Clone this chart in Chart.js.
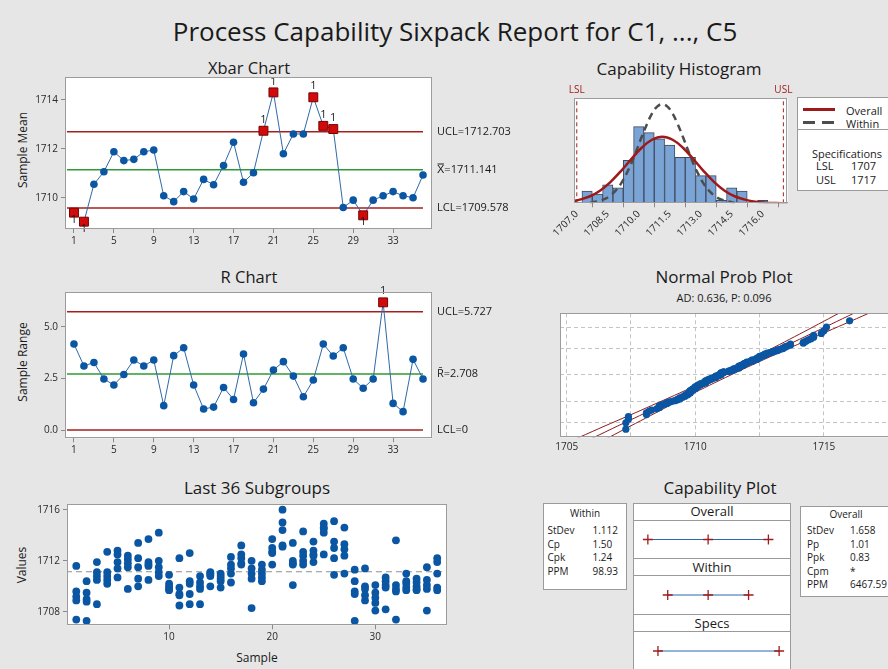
<!DOCTYPE html>
<html>
<head>
<meta charset="utf-8">
<script src="https://cdn.jsdelivr.net/npm/chart.js@4.4.0/dist/chart.umd.min.js"></script>
<style>
  html, body { margin: 0; padding: 0; }
  body { width: 888px; height: 669px; background: #e6e6e6; position: relative; overflow: hidden;
         font-family: 'Open Sans', sans-serif; color: #1a1a1a; }
  canvas { position: absolute; }
  .box { position: absolute; background: #fff; border: 1px solid #9a9a9a; box-sizing: border-box; }
  .rule { position: absolute; height: 1px; background: #9a9a9a; }
</style>
</head>
<body>
<script>
// ---- data ----
const samples = [1, 2, 3, 4, 5, 6, 7, 8, 9, 10, 11, 12, 13, 14, 15, 16, 17, 18,
                 19, 20, 21, 22, 23, 24, 25, 26, 27, 28, 29, 30, 31, 32, 33, 34, 35, 36];

const xbarMeans = [1709.39, 1709.02, 1710.55, 1711.06, 1711.88, 1711.52, 1711.57, 1711.88, 1711.95,
                   1710.08, 1709.84, 1710.25, 1709.95, 1710.75, 1710.53, 1711.32, 1712.27, 1710.63,
                   1711.02, 1712.74, 1714.31, 1711.80, 1712.61, 1712.61, 1714.11, 1712.94, 1712.81,
                   1709.60, 1709.90, 1709.28, 1709.90, 1710.08, 1710.25, 1710.08, 1710.00, 1710.93];

const rangeValues = [4.16, 3.10, 3.27, 2.47, 2.18, 2.69, 3.39, 3.10, 3.39, 1.18, 3.60, 3.98,
                     2.18, 1.02, 1.11, 2.06, 1.48, 3.68, 1.32, 1.98, 2.90, 3.31, 2.61, 1.61,
                     2.42, 4.16, 3.58, 3.98, 2.47, 2.02, 2.47, 6.18, 1.29, 0.89, 3.42, 2.47];

// individual observations, one array per column C1..C5 (36 subgroups each)
const c1 = [1711.6, 1710.4, 1711.9, 1712.7, 1712.8, 1712.4, 1713.4, 1713.7, 1714.2, 1710.9, 1712.2, 1712.6,
            1710.8, 1711.1, 1711.0, 1712.3, 1713.2, 1712.0, 1711.7, 1713.7, 1716.0, 1713.4, 1714.3, 1713.5,
            1714.9, 1715.1, 1714.6, 1711.3, 1711.4, 1710.1, 1710.7, 1713.6, 1711.0, 1710.6, 1711.5, 1712.2];
const c2 = [1709.6, 1709.5, 1711.1, 1711.1, 1712.5, 1712.1, 1712.2, 1711.9, 1712.0, 1710.2, 1709.9, 1710.4,
            1710.3, 1711.0, 1710.8, 1711.7, 1712.5, 1711.4, 1711.3, 1713.0, 1715.0, 1712.0, 1712.7, 1712.8,
            1714.6, 1713.5, 1713.3, 1710.4, 1710.0, 1709.5, 1710.4, 1710.1, 1710.4, 1710.3, 1710.5, 1711.9];
const c3 = [1709.2, 1709.0, 1710.8, 1710.8, 1711.9, 1711.8, 1711.5, 1711.7, 1711.5, 1710.0, 1709.4, 1710.2,
            1710.0, 1710.9, 1710.6, 1711.4, 1712.2, 1711.0, 1711.0, 1712.7, 1714.4, 1711.8, 1712.4, 1712.5,
            1714.5, 1713.0, 1712.9, 1709.6, 1709.8, 1709.1, 1710.1, 1709.8, 1710.2, 1710.0, 1710.1, 1711.0];
const c4 = [1708.9, 1708.8, 1710.5, 1710.5, 1711.4, 1711.5, 1710.6, 1711.6, 1711.1, 1709.8, 1709.3, 1709.4,
            1709.8, 1710.8, 1710.4, 1711.0, 1711.8, 1710.6, 1710.7, 1712.6, 1713.2, 1711.7, 1712.0, 1712.4,
            1714.2, 1712.2, 1712.4, 1709.4, 1709.3, 1708.7, 1709.9, 1709.6, 1709.9, 1709.8, 1709.8, 1709.9];
const c5 = [1707.4, 1707.3, 1708.6, 1710.2, 1710.7, 1709.8, 1710.0, 1710.5, 1710.8, 1709.7, 1708.5, 1708.6,
            1708.6, 1710.0, 1709.9, 1710.3, 1711.7, 1708.3, 1710.4, 1711.7, 1713.1, 1710.1, 1711.7, 1711.9,
            1712.5, 1710.9, 1711.0, 1707.3, 1708.9, 1708.1, 1708.2, 1707.4, 1709.7, 1709.7, 1708.1, 1709.7];

const xbarUCL = 1712.703, xbarCL = 1711.141, xbarLCL = 1709.578;
const rUCL = 5.727, rCL = 2.708, rLCL = 0;
const lsl = 1707, usl = 1717;

const controlXTicks = [1, 5, 9, 13, 17, 21, 25, 29, 33];
const xbarYTicks = [1710, 1712, 1714];
const rYTicks = [0, 2.5, 5];
const subgroupXTicks = [10, 20, 30];
const subgroupYTicks = [1708, 1712, 1716];

const histBins = [1707.5, 1708.0, 1708.5, 1709.0, 1709.5, 1710.0, 1710.5, 1711.0, 1711.5,
                  1712.0, 1712.5, 1713.0, 1713.5, 1714.0, 1714.5, 1715.0, 1715.5, 1716.0];
const histCounts = [4, 3, 6, 5, 14, 25, 23, 21, 19, 15, 15, 9, 9, 1, 5, 4, 0, 1];
const histTicks = [1707.0, 1708.5, 1710.0, 1711.5, 1713.0, 1714.5, 1716.0];

const overallCurveX = [1706.88, 1707.14, 1707.64, 1708.14, 1708.64, 1709.14, 1709.64, 1710.14, 1710.64, 1711.14,
                       1711.64, 1712.14, 1712.64, 1713.14, 1713.64, 1714.14, 1714.64, 1715.14, 1715.64, 1716.14,
                       1716.64, 1717.21];
const overallCurveY = [0.8, 1.2, 2.3, 4.2, 7.0, 10.5, 14.4, 18.1, 20.7, 21.7,
                       20.7, 18.1, 14.4, 10.5, 7.0, 4.2, 2.3, 1.2, 0.5, 0.2,
                       0.1, 0.0];
const withinCurveX = [1707.64, 1707.89, 1708.14, 1708.39, 1708.64, 1708.89, 1709.14, 1709.39, 1709.64, 1709.89,
                      1710.14, 1710.39, 1710.64, 1710.89, 1711.14, 1711.39, 1711.64, 1711.89, 1712.14, 1712.39,
                      1712.64, 1712.89, 1713.14, 1713.39, 1713.64, 1713.89, 1714.14, 1714.39, 1714.64];
const withinCurveY = [0.2, 0.5, 0.9, 1.5, 2.6, 4.2, 6.4, 9.4, 13.0, 17.2,
                      21.6, 25.7, 29.2, 31.5, 32.3, 31.5, 29.2, 25.7, 21.6, 17.2,
                      13.0, 9.4, 6.4, 4.2, 2.6, 1.5, 0.9, 0.5, 0.2];

const probXTicks = [1705, 1707.5, 1710, 1712.5, 1715, 1717.5];
const probXLabels = [1705, 1710, 1715];
const probGridPct = [1, 10, 50, 90, 99];
const probBandZ  = [-3.3, -3.06, -2.5, -2, -1.5, -1, -0.5, 0, 0.5, 1, 1.5, 2, 2.5, 3.03, 3.3];
const probFitX   = [1705.67, 1706.07, 1706.99, 1707.83, 1708.65, 1709.48, 1710.31, 1711.14,
                    1711.97, 1712.80, 1713.63, 1714.46, 1715.29, 1716.16, 1716.61];
const probBandLo = [1705.06, 1705.49, 1706.49, 1707.41, 1708.30, 1709.19, 1710.06, 1710.90,
                    1711.72, 1712.51, 1713.28, 1714.04, 1714.79, 1715.58, 1716.00];
const probBandHi = [1706.28, 1706.65, 1707.49, 1708.25, 1709.00, 1709.77, 1710.56, 1711.38,
                    1712.22, 1713.09, 1713.98, 1714.88, 1715.79, 1716.74, 1717.22];

const capOverall = [1706.167, 1711.141, 1716.115];
const capWithin = [1707.805, 1711.141, 1714.477];
const capSpecs = [1707, 1717];

const withinStats = [["StDev", "1.112"], ["Cp", "1.50"], ["Cpk", "1.24"], ["PPM", "98.93"]];
const overallStats = [["StDev", "1.658"], ["Pp", "1.01"], ["Ppk", "0.83"], ["Cpm", "*"], ["PPM", "6467.59"]];

// ---- styling ----
const dotBlue = '#0b56a3';
const lineBlue = '#2f6aa6';
const flagRed = '#d10a0a';
const limitRed = '#a3201f';
const centerGreen = '#2f9a35';
const tickColor = '#2a2a2a';
const FONT = "'Open Sans', sans-serif";

Chart.defaults.font.family = FONT;
Chart.defaults.color = tickColor;

// normal quantile (Acklam) used for the probability plot's vertical scale
function normInv(p) {
    const a = [-3.969683028665376e+01, 2.209460984245205e+02, -2.759285104469687e+02, 1.383577518672690e+02, -3.066479806614716e+01, 2.506628277459239e+00];
    const b = [-5.447609879822406e+01, 1.615858368580409e+02, -1.556989798598866e+02, 6.680131188771972e+01, -1.328068155288572e+01];
    const c = [-7.784894002430293e-03, -3.223964580411365e-01, -2.400758277161838e+00, -2.549732539343734e+00, 4.374664141464968e+00, 2.938163982698783e+00];
    const d = [7.784695709041462e-03, 3.224671290700398e-01, 2.445134137142996e+00, 3.754408661907416e+00];
    const lo = 0.02425;
    if (p < lo) {
        const q = Math.sqrt(-2 * Math.log(p));
        return (((((c[0]*q+c[1])*q+c[2])*q+c[3])*q+c[4])*q+c[5]) / ((((d[0]*q+d[1])*q+d[2])*q+d[3])*q+1);
    }
    if (p > 1 - lo) {
        const q = Math.sqrt(-2 * Math.log(1 - p));
        return -(((((c[0]*q+c[1])*q+c[2])*q+c[3])*q+c[4])*q+c[5]) / ((((d[0]*q+d[1])*q+d[2])*q+d[3])*q+1);
    }
    const q = p - 0.5, r = q * q;
    return (((((a[0]*r+a[1])*r+a[2])*r+a[3])*r+a[4])*r+a[5])*q / (((((b[0]*r+b[1])*r+b[2])*r+b[3])*r+b[4])*r+1);
}

// ---- plugins ----
const framePlugin = {
    id: 'frame',
    beforeDraw(chart, args, opts) {
        if (opts.fill === false) return;
        const a = chart.chartArea, ctx = chart.ctx;
        ctx.save();
        ctx.fillStyle = '#fff';
        ctx.fillRect(a.left, a.top, a.width, a.height);
        ctx.restore();
    },
    afterDraw(chart, args, opts) {
        if (opts.stroke === false) return;
        const a = chart.chartArea, ctx = chart.ctx;
        ctx.save();
        ctx.strokeStyle = '#9c9c9c';
        ctx.lineWidth = 1;
        ctx.strokeRect(Math.round(a.left) + 0.5, Math.round(a.top) + 0.5, Math.round(a.width) - 1, Math.round(a.height) - 1);
        ctx.restore();
    }
};

const limitLabelPlugin = {
    id: 'limitLabels',
    afterDraw(chart, args, opts) {
        if (!opts.items) return;
        const ctx = chart.ctx, a = chart.chartArea, ys = chart.scales.y;
        ctx.save();
        ctx.font = "11px " + FONT;
        ctx.fillStyle = '#1a1a1a';
        ctx.textBaseline = 'middle';
        ctx.textAlign = 'left';
        opts.items.forEach(it => ctx.fillText(it.text, a.right + 5, ys.getPixelForValue(it.value)));
        ctx.restore();
    }
};

const ruleLabelPlugin = {
    id: 'ruleLabels',
    afterDatasetsDraw(chart, args, opts) {
        if (!opts.flags) return;
        const ctx = chart.ctx, meta = chart.getDatasetMeta(0);
        ctx.save();
        ctx.font = "11px " + FONT;
        ctx.fillStyle = '#1a1a1a';
        ctx.textAlign = 'center';
        ctx.textBaseline = 'middle';
        opts.flags.forEach((f, i) => {
            if (!f) return;
            const p = meta.data[i];
            ctx.fillText('1', p.x, f === 'up' ? p.y - 11 : p.y + 7);
        });
        ctx.restore();
    }
};

const specLabelPlugin = {
    id: 'specLabels',
    afterDraw(chart, args, opts) {
        if (!opts.items) return;
        const ctx = chart.ctx, a = chart.chartArea, xs = chart.scales.x;
        ctx.save();
        ctx.font = "10px " + FONT;
        ctx.fillStyle = limitRed;
        ctx.textAlign = 'center';
        ctx.textBaseline = 'bottom';
        opts.items.forEach(it => ctx.fillText(it.text, xs.getPixelForValue(it.value), a.top - 3));
        ctx.restore();
    }
};

Chart.register(framePlugin, limitLabelPlugin, ruleLabelPlugin, specLabelPlugin);

// ---- page helpers ----
function addCanvas(x, y, w, h) {
    const el = document.createElement('canvas');
    el.width = w; el.height = h;
    el.style.left = x + 'px'; el.style.top = y + 'px';
    el.style.width = w + 'px'; el.style.height = h + 'px';
    document.body.appendChild(el);
    return { el, x, y, w, h };
}

function txt(s, x, y, size, opt = {}) {
    const d = document.createElement('div');
    d.textContent = s;
    d.style.cssText = `position:absolute;white-space:nowrap;font-size:${size}px;line-height:1;left:${x}px;top:${y}px;`;
    const align = opt.align || 'center';
    const tx = align === 'center' ? '-50%' : (align === 'right' ? '-100%' : '0');
    d.style.transform = `translate(${tx},-50%)` + (opt.rotate ? ` rotate(${opt.rotate}deg)` : '');
    if (opt.color) d.style.color = opt.color;
    document.body.appendChild(d);
    return d;
}

function box(x, y, w, h, cls = 'box') {
    const d = document.createElement('div');
    d.className = cls;
    d.style.left = x + 'px'; d.style.top = y + 'px';
    d.style.width = w + 'px'; d.style.height = h + 'px';
    document.body.appendChild(d);
    return d;
}

// options that put the plot area exactly on `plot` inside canvas `cv`
function baseOptions(cv, plot, yW, xH, scales, plugins) {
    return {
        responsive: false,
        animation: false,
        devicePixelRatio: 1,
        layout: { padding: {
            left: plot.x - cv.x - yW,
            top: plot.y - cv.y,
            right: cv.x + cv.w - plot.x - plot.w,
            bottom: cv.y + cv.h - plot.y - plot.h - xH
        } },
        plugins: Object.assign({ legend: { display: false }, tooltip: { enabled: false } }, plugins),
        scales
    };
}

function fixedTicks(list) {
    return s => { s.ticks = list.map(v => ({ value: v })); };
}

const axisGrid = { drawOnChartArea: false, drawTicks: true, tickLength: 4, color: '#8a8a8a' };

// ---- control charts ----
const limitSpan = [0.3, 36];

function controlChart(cv, plot, vals, lim, yMin, yMax, yTicks, yFmt, items) {
    const flags = vals.map(v => v > lim.ucl ? 'up' : (v < lim.lcl ? 'down' : null));
    const hline = (y, color) => ({
        data: [{ x: limitSpan[0], y }, { x: limitSpan[1], y }],
        borderColor: color, borderWidth: 1.5, pointRadius: 0
    });
    return new Chart(cv.el, {
        type: 'line',
        data: { datasets: [
            {
                data: samples.map((s, i) => ({ x: s, y: vals[i] })),
                borderColor: lineBlue, borderWidth: 1,
                pointStyle: flags.map(f => f ? 'rect' : 'circle'),
                pointRadius: flags.map(f => f ? 6.3 : 3.8),
                pointBackgroundColor: flags.map(f => f ? flagRed : dotBlue),
                pointBorderColor: flags.map(f => f ? '#7a0000' : dotBlue),
                pointBorderWidth: flags.map(f => f ? 1 : 0)
            },
            hline(lim.ucl, limitRed),
            hline(lim.lcl, limitRed),
            hline(lim.cl, centerGreen)
        ] },
        options: baseOptions(cv, plot, 40, 20, {
            x: {
                type: 'linear', min: 0.1, max: 36.9,
                afterBuildTicks: fixedTicks(controlXTicks),
                afterFit: s => { s.height = 20; },
                ticks: { autoSkip: false, maxRotation: 0, font: { size: 10 }, padding: 2 },
                grid: axisGrid, border: { display: false }
            },
            y: {
                min: yMin, max: yMax,
                afterBuildTicks: fixedTicks(yTicks),
                afterFit: s => { s.width = 40; },
                ticks: { callback: v => yFmt(v), font: { size: 10 }, padding: 3 },
                grid: axisGrid, border: { display: false }
            }
        }, { limitLabels: { items }, ruleLabels: { flags } })
    });
}

// page title
txt('Process Capability Sixpack Report for C1, ..., C5', 455, 31, 26);

// Xbar chart
txt('Xbar Chart', 249, 68, 16.5);
txt('Sample Mean', 23, 150, 12, { rotate: -90 });
controlChart(addCanvas(0, 55, 540, 205), { x: 65, y: 77, w: 367, h: 152 }, xbarMeans,
    { ucl: xbarUCL, cl: xbarCL, lcl: xbarLCL }, 1708.72, 1714.94, xbarYTicks, v => String(v),
    [{ value: xbarUCL, text: 'UCL=' + xbarUCL.toFixed(3) },
     { value: xbarCL, text: 'X\u033F=' + xbarCL.toFixed(3) },
     { value: xbarLCL, text: 'LCL=' + xbarLCL.toFixed(3) }]);

// R chart
txt('R Chart', 249, 277, 16.5);
txt('Sample Range', 23, 362, 12, { rotate: -90 });
controlChart(addCanvas(0, 265, 540, 200), { x: 65, y: 292, w: 367, h: 146.3 }, rangeValues,
    { ucl: rUCL, cl: rCL, lcl: rLCL }, -0.4, 6.68, rYTicks, v => v.toFixed(1),
    [{ value: rUCL, text: 'UCL=' + rUCL.toFixed(3) },
     { value: rCL, text: 'R\u0304=' + rCL.toFixed(3) },
     { value: rLCL, text: 'LCL=' + rLCL }]);

// Last 36 subgroups
txt('Last 36 Subgroups', 257, 487, 17);
txt('Values', 22, 565, 12, { rotate: -90 });
txt('Sample', 257, 658, 12);
{
    const cv = addCanvas(0, 495, 470, 174);
    const plot = { x: 67, y: 504.3, w: 380, h: 121 };
    const pts = [];
    [c1, c2, c3, c4, c5].forEach(col => col.forEach((v, i) => pts.push({ x: samples[i], y: v })));
    new Chart(cv.el, {
        type: 'scatter',
        data: { datasets: [
            { data: pts, pointRadius: 3.9, pointBackgroundColor: dotBlue, pointBorderWidth: 0 },
            { data: [{ x: 0, y: xbarCL }, { x: 37, y: xbarCL }], showLine: true, pointRadius: 0,
              borderColor: '#8e8e8e', borderWidth: 1.2, borderDash: [6, 4] }
        ] },
        options: baseOptions(cv, plot, 40, 20, {
            x: {
                type: 'linear', min: 0.1, max: 36.95,
                afterBuildTicks: fixedTicks(subgroupXTicks),
                afterFit: s => { s.height = 20; },
                ticks: { autoSkip: false, maxRotation: 0, font: { size: 10 }, padding: 2,
                         callback: v => String(v) },
                grid: axisGrid, border: { display: false }
            },
            y: {
                min: 1706.95, max: 1716.42,
                afterBuildTicks: fixedTicks(subgroupYTicks),
                afterFit: s => { s.width = 40; },
                ticks: { font: { size: 10 }, padding: 3, callback: v => String(v) },
                grid: axisGrid, border: { display: false }
            }
        }, {})
    });
}

// Capability histogram
txt('Capability Histogram', 679, 68, 17);
{
    const cv = addCanvas(540, 80, 260, 170);
    const plot = { x: 574.3, y: 98.3, w: 213.4, h: 105 };
    const yTop = 34.2;
    const vline = v => ({ type: 'line', data: [{ x: v, y: 0 }, { x: v, y: yTop }], borderColor: limitRed,
                          borderWidth: 1, borderDash: [4, 3], pointRadius: 0 });
    new Chart(cv.el, {
        type: 'bar',
        data: { datasets: [
            { type: 'line', data: overallCurveX.map((x, i) => ({ x, y: overallCurveY[i] })),
              borderColor: '#9e1a1a', borderWidth: 2.5, pointRadius: 0, tension: 0.4 },
            { type: 'line', data: withinCurveX.map((x, i) => ({ x, y: withinCurveY[i] })),
              borderColor: '#4d4d4d', borderWidth: 2.5, borderDash: [7, 5], pointRadius: 0, tension: 0.4 },
            vline(lsl),
            vline(usl),
            { type: 'bar', data: histBins.map((x, i) => ({ x, y: histCounts[i] })),
              backgroundColor: '#7aa3d6', borderColor: '#3f4b5e', borderWidth: 1,
              barPercentage: 1, categoryPercentage: 1 }
        ] },
        options: baseOptions(cv, plot, 0, 44, {
            x: {
                type: 'linear', min: 1706.88, max: 1717.21, offset: false,
                afterBuildTicks: fixedTicks(histTicks),
                afterFit: s => { s.height = 44; },
                ticks: { autoSkip: false, minRotation: 45, maxRotation: 45, font: { size: 10 },
                         callback: v => Number(v).toFixed(1), padding: 1 },
                grid: axisGrid, border: { display: false }
            },
            y: { display: false, min: 0, max: yTop }
        }, { specLabels: { items: [{ value: lsl, text: 'LSL' }, { value: usl, text: 'USL' }] } })
    });
}

// histogram legend box
box(797, 97, 100, 94);
box(797, 129, 100, 1, 'rule');
box(803, 108, 32, 2.5).style.cssText += 'background:#9e1a1a;border:none;';
box(803, 121, 12, 2.5).style.cssText += 'background:#4d4d4d;border:none;';
box(822, 121, 12, 2.5).style.cssText += 'background:#4d4d4d;border:none;';
txt('Overall', 846, 109.5, 11, { align: 'left' });
txt('Within', 846, 122.5, 11, { align: 'left' });
txt('Specifications', 847, 152.5, 11);
txt('LSL', 816, 165, 11, { align: 'left' });
txt(String(lsl), 851, 165, 11, { align: 'left' });
txt('USL', 816, 179, 11, { align: 'left' });
txt(String(usl), 851, 179, 11, { align: 'left' });

// Normal probability plot
txt('Normal Prob Plot', 724, 276, 17);
txt('AD: 0.636, P: 0.096', 724, 297, 11);
{
    const cv = addCanvas(545, 305, 360, 160);
    const plot = { x: 560, y: 313.3, w: 330, h: 124 };
    const all = [...c1, ...c2, ...c3, ...c4, ...c5].sort((a, b) => a - b);
    const n = all.length;
    const pts = all.map((v, i) => ({ x: v, y: normInv((i + 1 - 0.3) / (n + 0.4)) }));
    const redLine = xs => ({ data: xs.map((x, i) => ({ x, y: probBandZ[i] })), showLine: true, pointRadius: 0,
                             borderColor: '#8e1b1b', borderWidth: 1, tension: 0.3 });
    new Chart(cv.el, {
        type: 'scatter',
        data: { datasets: [
            { data: pts, pointRadius: 3.6, pointBackgroundColor: dotBlue, pointBorderWidth: 0 },
            redLine(probFitX), redLine(probBandLo), redLine(probBandHi)
        ] },
        options: baseOptions(cv, plot, 0, 22, {
            x: {
                type: 'linear', min: 1704.74, max: 1717.57,
                afterBuildTicks: fixedTicks(probXTicks),
                afterFit: s => { s.height = 22; },
                ticks: { autoSkip: false, maxRotation: 0, font: { size: 10 }, padding: 4,
                         callback: v => probXLabels.includes(v) ? String(v) : '' },
                grid: { color: '#c4c4c4', drawTicks: false }, border: { display: false, dash: [4, 3] }
            },
            y: {
                min: -3.06, max: 3.03,
                afterBuildTicks: fixedTicks(probGridPct.map(p => normInv(p / 100))),
                afterFit: s => { s.width = 0; },
                ticks: { display: false },
                grid: { color: '#c4c4c4', drawTicks: false }, border: { display: false, dash: [4, 3] }
            }
        }, {})
    });
}

// Capability plot
txt('Capability Plot', 720, 487, 17);
box(633, 503, 158, 180);
[520, 558, 575, 614, 631].forEach(y => box(633, y, 158, 1, 'rule'));
txt('Overall', 712, 511, 13);
txt('Within', 712, 566.5, 13);
txt('Specs', 712, 622.5, 13);

function capStrip(y0, y1, vals) {
    const cv = addCanvas(633, y0, 158, y1 - y0);
    new Chart(cv.el, {
        type: 'line',
        data: { datasets: [{
            data: vals.map(v => ({ x: v, y: 0 })),
            borderColor: '#2a6bb0', borderWidth: 1.2,
            pointStyle: 'cross', pointRadius: 5, pointBorderColor: '#a01c1c', pointBorderWidth: 1.3
        }] },
        options: baseOptions(cv, { x: 633, y: y0, w: 158, h: y1 - y0 }, 0, 0, {
            x: { type: 'linear', display: false, min: 1705.46, max: 1717.46 },
            y: { display: false, min: -1, max: 1 }
        }, { frame: { fill: false, stroke: false } })
    });
}
capStrip(521, 558, capOverall);
capStrip(576, 614, capWithin);
capStrip(632, 670, capSpecs);

// stats tables
box(543, 503, 84, 87);
txt('Within', 585, 512.5, 10);
withinStats.forEach((r, i) => {
    txt(r[0], 547.5, 530 + i * 13.5, 10, { align: 'left' });
    txt(r[1], 592.5, 530 + i * 13.5, 10, { align: 'left' });
});

box(800, 506, 100, 91);
txt('Overall', 846, 513.5, 10);
overallStats.forEach((r, i) => {
    txt(r[0], 807, 530 + i * 13.6, 10, { align: 'left' });
    txt(r[1], 850, 530 + i * 13.6, 10, { align: 'left' });
});
</script>
</body>
</html>
